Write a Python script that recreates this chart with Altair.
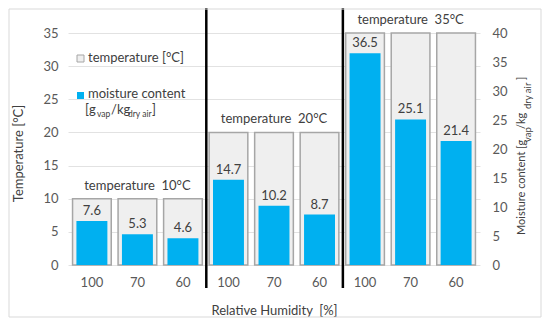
import altair as alt
import pandas as pd

# ---- data ----
group_temps = [10, 20, 35]
rh_labels = ["100", "70", "60"]
temperature = [10, 10, 10, 20, 20, 20, 35, 35, 35]
moisture = [7.6, 5.3, 4.6, 14.7, 10.2, 8.7, 36.5, 25.1, 21.4]
left_ticks = [0, 5, 10, 15, 20, 25, 30, 35]
right_ticks = [0, 5, 10, 15, 20, 25, 30, 35, 40]
rh = rh_labels * 3
cats = [f"{t}-{r}" for t, r in zip(temperature, rh)]
separators = ["10-60", "20-60"]
annot_cats = ["10-70", "20-70", "35-70"]
NB = "\u00a0"
annot_texts = [f"temperature{NB}{NB}{t}°C" for t in group_temps]

df = pd.DataFrame({"cat": cats, "temperature": temperature, "moisture": moisture,
                   "label": [f"{m:.1f}" for m in moisture]})
ann = pd.DataFrame({"cat": annot_cats, "temperature": group_temps, "text": annot_texts})
sep = pd.DataFrame({"cat": separators})
one = pd.DataFrame({"k": [0]})

W, H = 412, 232
FONT = "Lato"
TXT = "#404040"
LAB = "#595959"

x_axis = alt.Axis(labelExpr="split(datum.value, '-')[1]", labelAngle=0,
                  title=f"Relative Humidity{NB}{NB}[%]", domain=False, ticks=False,
                  labelPadding=11, labelFontSize=13, labelColor=LAB,
                  titleFontSize=13, titleColor=TXT, titleFontWeight="normal",
                  titleY=45, titleBaseline="middle", labelFont=FONT, titleFont=FONT)
x_scale = alt.Scale(paddingInner=0.15, paddingOuter=0.1)

def xenc(**kw):
    return alt.X("cat:N", sort=cats, scale=x_scale, axis=x_axis, **kw)

left_axis = alt.Axis(values=left_ticks, title="Temperature [°C]",
                     domain=False, ticks=False, labelPadding=10, labelFontSize=13,
                     labelOverlap=False, labelColor=LAB, titleFontSize=13, titleColor=TXT,
                     titleFontWeight="normal", gridColor="#e2e2e2", gridWidth=1,
                     titleX=-50, titleY=120, titleAngle=-90, titleAlign="center",
                     titleBaseline="middle", labelFont=FONT, titleFont=FONT)
left_scale = alt.Scale(domain=[0, 35])
right_axis = alt.Axis(orient="right", values=right_ticks, title="",
                      domain=False, ticks=False, grid=False, labelPadding=12,
                      labelOverlap=False, labelFontSize=13, labelColor=LAB, labelFont=FONT)
right_scale = alt.Scale(domain=[0, 40])

grey = alt.Chart(df).mark_bar(fill="#efefef", stroke="#a6a6a6", strokeWidth=1.5).encode(
    x=xenc(),
    y=alt.Y("temperature:Q", scale=left_scale, axis=left_axis),
)
annot = alt.Chart(ann).mark_text(fontSize=13, font=FONT, color=TXT, dy=-13, baseline="middle").encode(
    x=xenc(), y=alt.Y("temperature:Q", scale=left_scale, axis=left_axis), text="text:N")
seprule = alt.Chart(sep).mark_rule(color="black", strokeWidth=2.5, xOffset=4).encode(
    x=xenc(bandPosition=1),
    y=alt.value(-30), y2=alt.value(H + 23))

left = alt.layer(grey, annot, seprule)

blue = alt.Chart(df).mark_bar(color="#00b0f0", width=alt.RelativeBandSize(0.8)).encode(
    x=xenc(),
    y=alt.Y("moisture:Q", scale=right_scale, axis=right_axis),
)
vals = alt.Chart(df).mark_text(fontSize=13, font=FONT, color=TXT, dy=-10, baseline="middle").encode(
    x=xenc(), y=alt.Y("moisture:Q", scale=right_scale, axis=right_axis), text="label:N")
right = alt.layer(blue, vals)

# ---- legend and right-axis title (manual, with subscripts) ----
def txt(s, x, y, size=13, angle=0, align="left"):
    return alt.Chart(one).mark_text(text=s, fontSize=size, font=FONT, color=TXT, align=align,
                                    baseline="middle", angle=angle).encode(
        x=alt.value(x), y=alt.value(y))

def box(x, y, w, h, fill, stroke=None):
    kw = dict(fill=fill)
    if stroke:
        kw.update(stroke=stroke, strokeWidth=1)
    return alt.Chart(one).mark_rect(**kw).encode(
        x=alt.value(x), x2=alt.value(x + w), y=alt.value(y), y2=alt.value(y + h))

legend = [
    box(9, 22, 7, 7, "#efefef", "#a6a6a6"),
    txt("temperature [°C]", 20, 25),
    box(9, 59, 7, 7, "#00b0f0"),
    txt("moisture content", 20, 61),
    txt("[g", 17, 77),
    txt("vap", 29, 81, size=8.5),
    txt("/kg", 43, 77),
    txt("dry air", 60, 81, size=8.5),
    txt("]", 84, 77),
]
rtitle = [
    txt("Moisture content [g", W + 42, 202, size=11, angle=270),
    txt("vap", W + 48, 109, size=9.5, angle=270),
    txt("/kg", W + 42, 96, size=11, angle=270),
    txt("dry air", W + 48, 76, size=9.5, angle=270),
    txt("]", W + 42, 47, size=11, angle=270),
]
border = alt.Chart(one).mark_rect(fill=None, stroke="#d9d9d9", strokeWidth=1).encode(
    x=alt.value(-59), x2=alt.value(W + 61), y=alt.value(-24), y2=alt.value(H + 52))

chart = alt.layer(left, right, border, *legend, *rtitle).resolve_scale(y="independent").properties(
    width=W, height=H, autosize=alt.AutoSizeParams(type="none"),
    padding={"left": 60, "top": 25, "right": 62, "bottom": 54},
    background="white",
).configure_view(stroke=None)

chart.save("out.html", embed_options={"renderer": "svg", "actions": False})
